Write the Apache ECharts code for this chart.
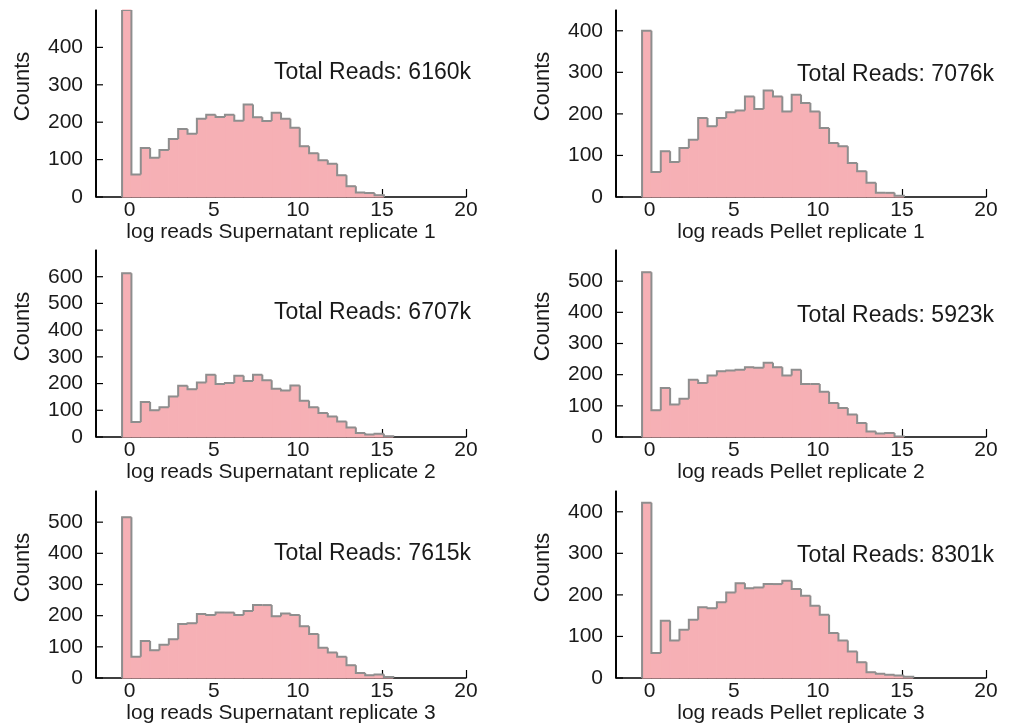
<!DOCTYPE html>
<html>
<head>
<meta charset="utf-8">
<style>
  html, body { margin: 0; padding: 0; background: #fff; }
  #chart { width: 1010px; height: 728px; }
</style>
<script src="https://cdn.jsdelivr.net/npm/echarts@6/dist/echarts.min.js"></script>
</head>
<body>
<div id="chart"></div>
<script>
// Histogram bin layout (log reads): first bin edge and bin width
const binStart = -0.45;
const binWidth = 0.556;

// Counts per bin for each sample
const supernatant1 = [500, 60, 131, 105, 126, 155, 182, 169, 209, 220, 214, 220, 204, 247, 213, 203, 225, 209, 185, 136, 117, 98, 89, 58, 29, 12, 11, 5];
const pellet1      = [400, 60, 110, 84, 118, 138, 190, 170, 190, 204, 208, 242, 212, 256, 242, 206, 246, 226, 206, 166, 130, 122, 82, 62, 34, 10, 10, 3];
const supernatant2 = [613, 56, 131, 100, 111, 152, 192, 179, 204, 233, 198, 202, 229, 210, 233, 212, 181, 174, 193, 136, 111, 90, 77, 58, 36, 15, 9, 12, 3];
const pellet2      = [529, 86, 157, 104, 123, 184, 173, 197, 211, 213, 216, 224, 222, 238, 224, 197, 216, 170, 170, 145, 109, 93, 72, 45, 18, 11, 13, 2];
const supernatant3 = [516, 68, 119, 89, 107, 124, 173, 176, 205, 202, 210, 210, 202, 215, 234, 234, 198, 207, 202, 166, 141, 97, 82, 68, 41, 16, 9, 11, 3];
const pellet3      = [422, 60, 138, 90, 116, 140, 170, 168, 182, 206, 228, 216, 218, 226, 226, 234, 214, 198, 174, 152, 108, 90, 64, 38, 14, 10, 8, 6, 3];

// Panel text and axis ranges
const panelNames = [
  'log reads Supernatant replicate 1', 'log reads Pellet replicate 1',
  'log reads Supernatant replicate 2', 'log reads Pellet replicate 2',
  'log reads Supernatant replicate 3', 'log reads Pellet replicate 3'
];
const totalReads = ['6160k', '7076k', '6707k', '5923k', '7615k', '8301k'];
const yMax = [500, 450, 700, 600, 600, 450];
const yStep = 100;
const xMin = -2, xMax = 20;
const xTicks = [0, 5, 10, 15, 20];
const panelCounts = [supernatant1, pellet1, supernatant2, pellet2, supernatant3, pellet3];

const FONT = "'Liberation Sans', Arial, sans-serif";
const FILL = '#f6b0b5';
const EDGE = '#8e8e8e';
const INK = '#1a1a1a';

const colLeft = [96, 616];
const rowTop = [10, 250, 491];
const gridW = 370, gridH = 187;

function binData(counts) {
  return counts.map((c, i) => [
    binStart + i * binWidth,
    binStart + (i + 1) * binWidth,
    c,
    i === 0 ? 0 : counts[i - 1],
    i === counts.length - 1 ? 1 : 0
  ]);
}

// Bin fill; the first item also carries the panel's left spine and its inward ticks
function makeFillRenderer(top) {
  return function (params, api) {
    const p0 = api.coord([api.value(0), 0]);
    const p1 = api.coord([api.value(1), api.value(2)]);
    const children = [{
      type: 'rect',
      shape: { x: p0[0], y: p1[1], width: p1[0] - p0[0], height: p0[1] - p1[1] },
      style: { fill: FILL, stroke: FILL, lineWidth: 1 }
    }];
    if (params.dataIndex === 0) {
      const b = api.coord([xMin, 0]);
      const t = api.coord([xMin, top]);
      children.push({
        type: 'line', z2: 10,
        shape: { x1: b[0], y1: b[1], x2: t[0], y2: t[1] },
        style: { stroke: '#000', lineWidth: 1.5 }
      });
      for (let v = 0; v < top; v += yStep) {
        const p = api.coord([xMin, v]);
        children.push({
          type: 'line', z2: 10,
          shape: { x1: p[0], y1: p[1], x2: p[0] + 7, y2: p[1] },
          style: { stroke: '#000', lineWidth: 1.2 }
        });
      }
    }
    return { type: 'group', children: children };
  };
}

function renderEdge(params, api) {
  const x0 = api.value(0), x1 = api.value(1), h = api.value(2), prev = api.value(3);
  const base = api.coord([x0, 0]);
  const pPrev = api.coord([x0, prev]);
  const pTop0 = api.coord([x0, h]);
  const pTop1 = api.coord([x1, h]);
  const pts = [[base[0], pPrev[1]], [pTop0[0], pTop0[1]], [pTop1[0], pTop1[1]]];
  if (api.value(4)) pts.push([pTop1[0], base[1]]);
  return {
    type: 'polyline',
    shape: { points: pts },
    style: { stroke: EDGE, lineWidth: 2, fill: null }
  };
}

const grids = [], xAxes = [], yAxes = [], series = [], titles = [];
panelCounts.forEach((counts, k) => {
  const col = k % 2, row = Math.floor(k / 2);
  grids.push({ left: colLeft[col], top: rowTop[row], width: gridW, height: gridH });
  xAxes.push({
    type: 'value', gridIndex: k, min: xMin, max: xMax,
    name: panelNames[k], nameLocation: 'middle', nameGap: 24,
    nameTextStyle: { fontFamily: FONT, fontSize: 21, color: INK },
    axisLine: { onZero: false, lineStyle: { color: '#000', width: 1.5 } },
    axisTick: { inside: true, length: 8, customValues: xTicks, lineStyle: { color: '#000', width: 1.2 } },
    axisLabel: { customValues: xTicks, margin: 3, fontFamily: FONT, fontSize: 21, color: INK },
    splitLine: { show: false }
  });
  yAxes.push({
    type: 'value', gridIndex: k, min: 0, max: yMax[k], interval: yStep,
    name: 'Counts', nameLocation: 'middle', nameGap: 62,
    nameTextStyle: { fontFamily: FONT, fontSize: 22, color: INK, padding: [0, 0, 0, 34] },
    axisLine: { show: true, onZero: false, lineStyle: { color: '#000', width: 1.5 } },
    axisTick: { show: false },
    axisLabel: { showMaxLabel: false, margin: 13, fontFamily: FONT, fontSize: 21, color: INK },
    splitLine: { show: false }
  });
  const data = binData(counts);
  series.push({
    type: 'custom', xAxisIndex: k, yAxisIndex: k, clip: false, silent: true,
    renderItem: makeFillRenderer(yMax[k]), data: data, z: 1
  });
  series.push({
    type: 'custom', xAxisIndex: k, yAxisIndex: k, clip: true, silent: true,
    renderItem: renderEdge, data: data, z: 2,
    markLine: {
      silent: true, symbol: 'none', label: { show: false },
      lineStyle: { color: '#000', width: 1.5, type: 'solid' },
      data: [{ xAxis: xMin }]
    }
  });
  titles.push({
    text: 'Total Reads: ' + totalReads[k],
    right: col === 0 ? 539 : 16,
    top: [[61, 63], [301, 304], [542, 544]][row][col],
    padding: 0,
    textStyle: { fontFamily: FONT, fontSize: 23, fontWeight: 'normal', color: INK }
  });
});

const chart = echarts.init(document.getElementById('chart'), null, { renderer: 'canvas' });
chart.setOption({
  backgroundColor: '#fff',
  animation: false,
  title: titles,
  grid: grids,
  xAxis: xAxes,
  yAxis: yAxes,
  series: series
});
</script>
</body>
</html>
